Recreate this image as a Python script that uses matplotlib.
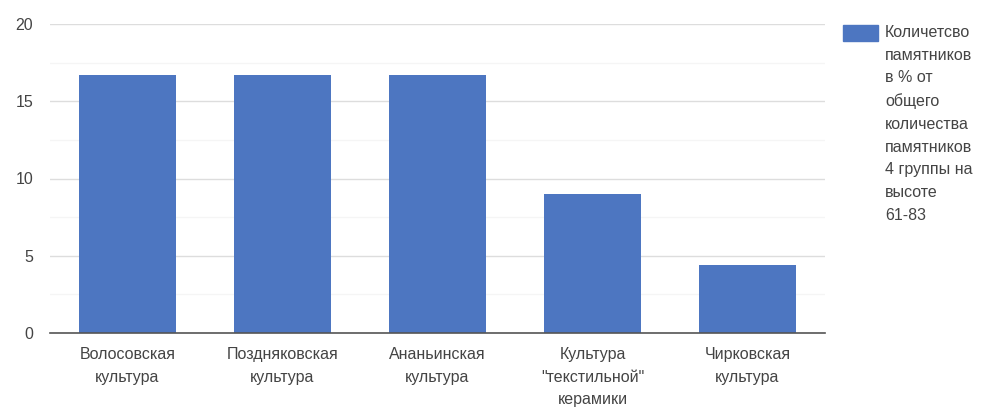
import matplotlib
matplotlib.use("Agg")
import matplotlib.pyplot as plt
from matplotlib.ticker import MultipleLocator

categories = ["Волосовская\nкультура", "Поздняковская\nкультура", "Ананьинская\nкультура",
              "Культура\n\"текстильной\"\nкерамики", "Чирковская\nкультура"]
values = [16.7, 16.7, 16.7, 9.0, 4.4]
legend_label = "Количетсво\nпамятников\nв % от\nобщего\nколичества\nпамятников\n4 группы на\nвысоте\n61-83"

plt.rcParams['font.family'] = ['Liberation Sans', 'DejaVu Sans']
text_color = "#444444"
bar_color = "#4d76c1"

fig = plt.figure(figsize=(9.86, 4.08), dpi=100)
ax = fig.add_axes([50/986, 75/408, 775/986, 309/408])

x = list(range(len(categories)))
ax.bar(x, values, width=0.62, color=bar_color, zorder=3)
ax.set_xlim(-0.5, len(categories) - 0.5)
ax.set_ylim(0, 20)
ax.yaxis.set_major_locator(MultipleLocator(5))
ax.yaxis.set_minor_locator(MultipleLocator(2.5))
ax.grid(axis='y', which='major', color='#dddddd', linewidth=1, zorder=0)
ax.grid(axis='y', which='minor', color='#f5f5f5', linewidth=1, zorder=0)
for s in ['top', 'right', 'left']:
    ax.spines[s].set_visible(False)
ax.spines['bottom'].set_color('#555555')
ax.spines['bottom'].set_linewidth(1.2)
ax.spines['bottom'].set_zorder(4)
ax.tick_params(axis='both', which='both', length=0, colors=text_color, labelsize=11.5)
ax.tick_params(axis='y', pad=12)
ax.tick_params(axis='x', pad=10)
ax.set_xticks(x)
ax.set_xticklabels(categories, linespacing=1.64)

fig.patches.append(plt.Rectangle((843/986, 1 - 41/408), 35/986, 16/408,
                                 transform=fig.transFigure, color=bar_color))
fig.text(885/986, 1 - 25/408, legend_label, ha='left', va='top', fontsize=11.5,
         color=text_color, linespacing=1.64)

fig.savefig("out.png", dpi=100)
